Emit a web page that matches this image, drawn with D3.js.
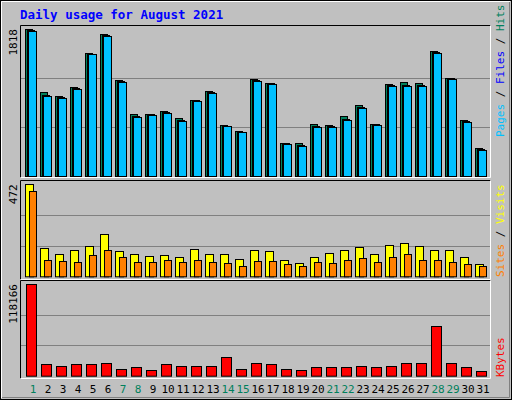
<!DOCTYPE html>
<html><head><meta charset="utf-8">
<script src="https://cdn.jsdelivr.net/npm/d3@7"></script>
<style>body{margin:0;background:#fff}svg{display:block}</style>
</head><body>
<script>
const days = d3.range(1, 32);
const weekendDays = [1, 7, 8, 14, 15, 21, 22, 28, 29];
const hits  = [1818,1039,989,1101,1521,1756,1187,767,767,804,717,944,1055,631,556,1200,1150,408,408,643,631,742,878,643,1138,1162,1150,1546,1212,693,346];
const files = [1800,1000,975,1088,1514,1743,1172,745,762,790,693,935,1036,624,550,1185,1145,402,382,620,618,710,856,637,1120,1130,1130,1530,1206,680,330];
const pages = [1793,989,965,1076,1509,1731,1162,730,754,779,680,927,1026,618,544,1175,1138,396,371,606,606,692,841,631,1113,1113,1113,1521,1200,668,322];
const visits = [472,144,113,133,154,215,128,113,103,108,97,139,113,113,87,133,128,82,67,97,118,133,149,113,159,169,154,133,133,97,62];
const sites  = [436,82,77,72,108,133,97,72,72,82,72,82,72,67,51,77,77,62,51,72,67,82,92,72,97,113,82,82,72,62,51];
const kbytes = [118166,14610,12032,14610,14610,15899,8164,10742,6875,14610,12032,12032,12032,23633,8164,15899,14610,8164,6875,10742,10742,10742,12032,10742,12032,15899,15899,63596,15899,10742,5586];
const maxLabels = ["1818", "472", "118166"];

const W = 512, H = 400;
const svg = d3.select("body").append("svg").attr("width", W).attr("height", H);
const font = "'DejaVu Sans Mono', monospace";

// frame
svg.append("rect").attr("x",0).attr("y",0).attr("width",W).attr("height",H).attr("fill","#c0c0c0");
svg.append("path").attr("d",`M1.5,${H-2}V1.5H${W-2}`).attr("stroke","#fff").attr("fill","none");
svg.append("path").attr("d",`M${W-2.5},2V${H-2.5}H2`).attr("stroke","#808080").attr("fill","none");
svg.append("rect").attr("x",0.5).attr("y",0.5).attr("width",W-1).attr("height",H-1).attr("stroke","#000").attr("fill","none");

svg.append("text").attr("x",20).attr("y",19).attr("fill","#0000ff").attr("font-family",font)
  .attr("font-weight","bold").attr("font-size",12.5).text("Daily usage for August 2021");

const x = d3.scaleBand().domain(days).range([20, 485]).padding(0);

const panels = [
  {top:25, bottom:177, base:176, maxY:29, max:1818},
  {top:180, bottom:279, base:276.3, maxY:184.3, max:472},
  {top:280, bottom:378, base:375.7, maxY:284, max:118166}
];

panels.forEach((p, i) => {
  svg.append("rect").attr("x",20.5).attr("y",p.top+0.5).attr("width",470).attr("height",p.bottom-p.top).attr("fill","#c0c0c0");
  p.y = d3.scaleLinear().domain([0, p.max]).range([p.base, p.maxY]);
  [1/3, 2/3].forEach(f => {
    const gy = Math.round(p.base - f*(p.base-p.maxY)) + 0.5;
    svg.append("line").attr("x1",21).attr("x2",490).attr("y1",gy).attr("y2",gy).attr("stroke","#808080");
  });
  svg.append("path").attr("d",`M20.5,${p.bottom+0.5}V${p.top+0.5}H490.5`).attr("stroke","#000").attr("fill","none");
  svg.append("path").attr("d",`M490.5,${p.top+0.5}V${p.bottom+0.5}H20.5`).attr("stroke","#fff").attr("fill","none");
  svg.append("text").attr("transform",`translate(17,${p.maxY}) rotate(-90)`).attr("text-anchor","end")
    .attr("font-family",font).attr("font-size",11).attr("fill","#000").text(maxLabels[i]);
});

function bars(data, panel, off, w, color) {
  const y = panel.y;
  svg.append("g").selectAll("rect").data(data).join("rect")
    .attr("x", (d,i) => x(days[i]) + off + 0.5)
    .attr("y", d => Math.round(y(d)) + 0.5)
    .attr("width", w)
    .attr("height", d => panel.base - Math.round(y(d)))
    .attr("fill", color).attr("stroke", "#000");
}
bars(hits, panels[0], 5, 7, "#00805c");
bars(files, panels[0], 7, 7, "#0000ff");
bars(pages, panels[0], 8, 8, "#00c0ff");
bars(visits, panels[1], 5, 8, "#ffff00");
bars(sites, panels[1], 9, 7, "#ff8000");
bars(kbytes, panels[2], 6, 10, "#ff0000");

// x labels
svg.append("g").selectAll("text").data(days).join("text")
  .attr("x", d => x(d) + 13).attr("y", 393).attr("text-anchor","middle")
  .attr("font-family",font).attr("font-size",11)
  .attr("fill", d => weekendDays.includes(d) ? "#00805c" : "#000").text(d => d);

// right legends
function legend(parts, yEnd) {
  const t = svg.append("text").attr("transform",`translate(504,${yEnd}) rotate(-90)`)
    .attr("font-family",font).attr("font-size",11);
  parts.forEach(([s,c]) => t.append("tspan").attr("fill",c).text(s));
}
legend([["Pages","#00c0ff"],[" / ","#000"],["Files","#0000ff"],[" / ","#000"],["Hits","#00805c"]], 137);
legend([["Sites","#ff8000"],[" / ","#000"],["Visits","#ffff00"]], 277);
legend([["KBytes","#ff0000"]], 377);
</script>
</body></html>
